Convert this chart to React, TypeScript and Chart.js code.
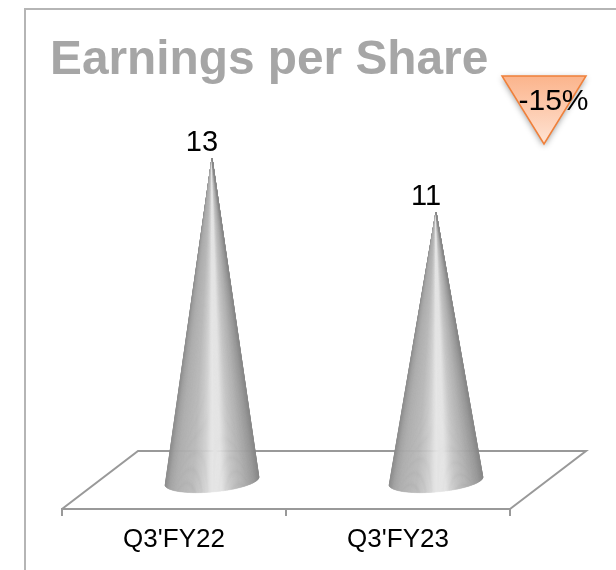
import React, { useEffect, useRef } from "react";
import { Chart, registerables } from "chart.js";

Chart.register(...registerables);

const titleText = "Earnings per Share";
const categories = ["Q3'FY22", "Q3'FY23"];
const eps = [13, 11];
const changeLabel = "-15%";

const FONT = '"Liberation Sans", Arial, sans-serif';
const shadeStops: [number, number][] = [
  [0, 140], [0.05, 160], [0.12, 172], [0.3, 184], [0.42, 205], [0.5, 228], [0.6, 226], [0.7, 196], [0.85, 170], [0.95, 150], [1, 136],
];

function shade(t: number) {
  for (let i = 1; i < shadeStops.length; i++) {
    const [a, ca] = shadeStops[i - 1];
    const [b, cb] = shadeStops[i];
    if (t <= b) {
      const v = Math.round(ca + ((t - a) / (b - a)) * (cb - ca));
      return `rgb(${v},${v},${v})`;
    }
  }
  return "rgb(136,136,136)";
}

const conePlugin = {
  id: "cone3d",
  beforeDraw(chart: any) {
    const c = chart.ctx;
    c.save();
    c.fillStyle = "#ffffff";
    c.fillRect(0, 0, chart.width, chart.height);
    c.strokeStyle = "#b5b5b5";
    c.lineWidth = 2;
    c.beginPath();
    c.moveTo(25, chart.height);
    c.lineTo(25, 9);
    c.lineTo(chart.width, 9);
    c.stroke();
    c.fillStyle = "#a6a6a6";
    c.font = `bold 47.8px ${FONT}`;
    c.textAlign = "left";
    c.textBaseline = "alphabetic";
    c.fillText(titleText, 50, 74);
    c.restore();
  },
  beforeDatasetsDraw(chart: any) {
    const c = chart.ctx;
    const { left, right, bottom } = chart.chartArea;
    c.save();
    c.strokeStyle = "#999999";
    c.lineWidth = 2;
    c.lineJoin = "miter";
    c.beginPath();
    c.moveTo(left, bottom);
    c.lineTo(left + 76, bottom - 58);
    c.lineTo(right + 76, bottom - 58);
    c.lineTo(right, bottom);
    c.stroke();
    c.restore();
  },
  afterDatasetsDraw(chart: any) {
    const c = chart.ctx;
    const bars = chart.getDatasetMeta(0).data;
    const rx = 47;
    const ry = 11;
    const rot = (-5 * Math.PI) / 180;
    bars.forEach((bar: any, idx: number) => {
      const cx = bar.x + 38;
      const cy = bar.base - 28;
      const tipX = cx;
      const tipY = bar.y;
      const N = 120;
      const pt = (th: number) => {
        const x = rx * Math.cos(th);
        const y = ry * Math.sin(th);
        return [cx + x * Math.cos(rot) - y * Math.sin(rot), cy + x * Math.sin(rot) + y * Math.cos(rot)];
      };
      c.save();
      c.lineWidth = 0.5;
      for (let i = 0; i < N; i++) {
        const a = Math.PI - (i / N) * Math.PI;
        const b = Math.PI - ((i + 1) / N) * Math.PI;
        const p = pt(a);
        const q = pt(b);
        const col = shade(((p[0] + q[0]) / 2 - (cx - rx)) / (2 * rx));
        c.fillStyle = col;
        c.strokeStyle = col;
        c.beginPath();
        c.moveTo(tipX, tipY);
        c.lineTo(p[0], p[1]);
        c.lineTo(q[0], q[1]);
        c.closePath();
        c.fill();
        c.stroke();
      }
      c.restore();
      c.save();
      c.fillStyle = "#000000";
      c.font = `29px ${FONT}`;
      c.textAlign = "center";
      c.textBaseline = "alphabetic";
      c.fillText(String(eps[idx]), bar.x + 28, bar.y - 7);
      c.restore();
    });

    // change badge
    c.save();
    const g = c.createLinearGradient(0, 76, 0, 144);
    g.addColorStop(0, "#fbb48c");
    g.addColorStop(1, "#ffe3d3");
    c.shadowColor = "rgba(0,0,0,0.4)";
    c.shadowBlur = 6;
    c.shadowOffsetY = 2;
    c.fillStyle = g;
    c.beginPath();
    c.moveTo(502, 76);
    c.lineTo(586, 76);
    c.lineTo(544, 144);
    c.closePath();
    c.fill();
    c.shadowColor = "transparent";
    c.strokeStyle = "#f0803a";
    c.lineWidth = 1.5;
    c.stroke();
    c.fillStyle = "#000000";
    c.font = `30px ${FONT}`;
    c.textAlign = "center";
    c.textBaseline = "alphabetic";
    c.fillText(changeLabel, 553.5, 110);
    c.restore();
  },
};

export default function App() {
  const ref = useRef<HTMLCanvasElement>(null);
  useEffect(() => {
    const chart = new Chart(ref.current!, {
      type: "bar",
      data: {
        labels: categories,
        datasets: [{ label: "Earnings per Share", data: eps, backgroundColor: "rgba(0,0,0,0)", borderWidth: 0 }],
      },
      options: {
        animation: false,
        responsive: false,
        devicePixelRatio: 1,
        layout: { padding: { left: 62, right: 106, top: 23, bottom: 10 } },
        plugins: { legend: { display: false }, title: { display: false }, tooltip: { enabled: false } },
        scales: {
          x: {
            offset: true,
            afterFit: (s: any) => { s.height = 51; },
            border: { display: true, color: "#999999", width: 2 },
            grid: { display: true, drawOnChartArea: false, drawTicks: true, tickLength: 7, color: "#999999", lineWidth: 2 },
            ticks: { color: "#000000", font: { family: FONT, size: 26 }, padding: 8, maxRotation: 0 },
          },
          y: { display: false, min: 0, max: 18 },
        },
      },
      plugins: [conePlugin],
    });
    return () => chart.destroy();
  }, []);
  return (
    <div style={{ position: "fixed", left: 0, top: 0, width: 616, height: 570, background: "#fff" }}>
      <canvas ref={ref} width={616} height={570} style={{ display: "block" }} />
    </div>
  );
}
